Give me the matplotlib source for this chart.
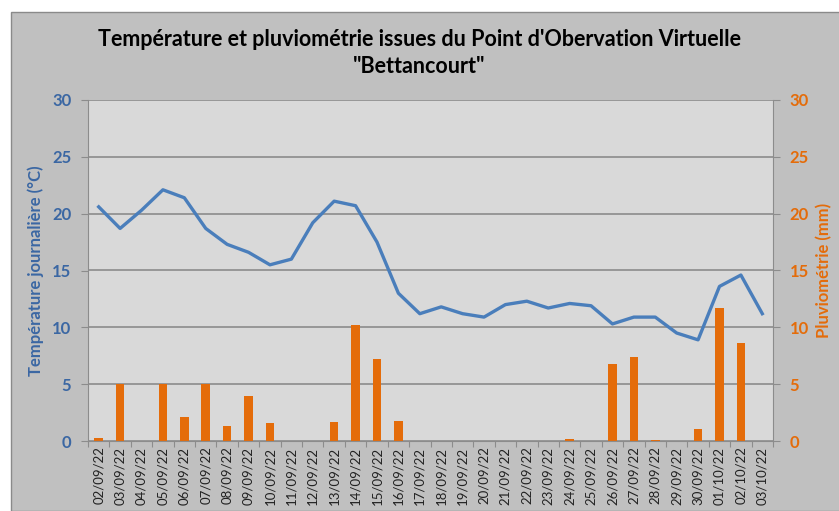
import matplotlib
matplotlib.use("Agg")
import matplotlib.pyplot as plt
from matplotlib.patches import Rectangle
import numpy as np

dates = ["02/09/22", "03/09/22", "04/09/22", "05/09/22", "06/09/22", "07/09/22",
         "08/09/22", "09/09/22", "10/09/22", "11/09/22", "12/09/22", "13/09/22",
         "14/09/22", "15/09/22", "16/09/22", "17/09/22", "18/09/22", "19/09/22",
         "20/09/22", "21/09/22", "22/09/22", "23/09/22", "24/09/22", "25/09/22",
         "26/09/22", "27/09/22", "28/09/22", "29/09/22", "30/09/22", "01/10/22",
         "02/10/22", "03/10/22"]
temperature = [20.6, 18.7, 20.3, 22.1, 21.4, 18.7, 17.3, 16.6, 15.5, 16.0, 19.2, 21.1,
               20.7, 17.5, 13.0, 11.2, 11.8, 11.2, 10.9, 12.0, 12.3, 11.7, 12.1, 11.9,
               10.3, 10.9, 10.9, 9.5, 8.9, 13.6, 14.6, 11.2]
rain = [0.25, 5.0, 0, 5.05, 2.1, 5.05, 1.3, 4.0, 1.55, 0, 0, 1.7,
        10.2, 7.2, 1.8, 0, 0, 0, 0, 0, 0, 0, 0.15, 0,
        6.8, 7.4, 0.05, 0, 1.05, 11.7, 8.6, 0]

blue = "#4a7ebb"
blue_txt = "#3b67a3"
orange = "#e46c0a"
grid_col = "#8c8c8c"
font = "Lato"

fig = plt.figure(figsize=(8.39, 5.11), dpi=100)
fig.patch.set_facecolor("white")
fig.add_artist(Rectangle((11 / 839, 0), 1, (511 - 12) / 511, transform=fig.transFigure,
                         facecolor="#c0c0c0", edgecolor="#8a8a8a", linewidth=1, zorder=0))

ax = fig.add_axes([88 / 839, 70 / 511, 685 / 839, 341 / 511])
ax.set_facecolor("#d9d9d9")
ax2 = ax.twinx()

x = np.arange(len(dates))
ax2.bar(x, rain, width=0.4, color=orange, zorder=2)
ax.plot(x, temperature, color=blue, linewidth=2.4, zorder=3)

ax.set_zorder(ax2.get_zorder() + 1)
ax.patch.set_visible(False)
ax2.patch.set_visible(True)
ax2.patch.set_facecolor("#d9d9d9")

for a in (ax, ax2):
    a.set_xlim(-0.5, len(dates) - 0.5)
    a.set_ylim(0, 30)
    a.set_yticks(range(0, 31, 5))
    for s in a.spines.values():
        s.set_visible(False)

ax2.grid(axis="y", color=grid_col, linewidth=1.2, zorder=0)
ax2.set_axisbelow(True)
ax.spines["left"].set_visible(True)
ax.spines["left"].set_color(grid_col)
ax.spines["bottom"].set_visible(True)
ax.spines["bottom"].set_color(grid_col)
ax2.spines["right"].set_visible(True)
ax2.spines["right"].set_color(grid_col)

ax.set_xticks(np.arange(-0.5, len(dates), 1.0))
ax.set_xticklabels([])
ax.set_xticks(x, minor=True)
ax.set_xticklabels(dates, minor=True, rotation=90, fontsize=9.5, family=font, color="#222222")
ax.tick_params(axis="x", which="major", length=4, color=grid_col, direction="out")
ax.tick_params(axis="x", which="minor", length=0, pad=4)

ax.tick_params(axis="y", length=5, color=grid_col, labelcolor=blue_txt, pad=7)
ax2.tick_params(axis="y", length=5, color=grid_col, labelcolor=orange, pad=7)
for lab in ax.get_yticklabels():
    lab.set_fontweight("bold"); lab.set_family(font); lab.set_fontsize(12)
for lab in ax2.get_yticklabels():
    lab.set_fontweight("bold"); lab.set_family(font); lab.set_fontsize(12)

ax.set_ylabel("Température journalière (°C)", color=blue_txt, fontsize=12,
              fontweight="bold", family=font, labelpad=6)
ax2.set_ylabel("Pluviométrie (mm)", color=orange, fontsize=12,
               fontweight="bold", family=font, labelpad=5)

fig.text(0.5, 0.896, "Température et pluviométrie issues du Point d'Obervation Virtuelle\n\"Bettancourt\"",
         ha="center", va="center", fontsize=15.5, fontweight="bold", family=font,
         linespacing=1.35, color="black")

fig.savefig("out.png", dpi=100)
